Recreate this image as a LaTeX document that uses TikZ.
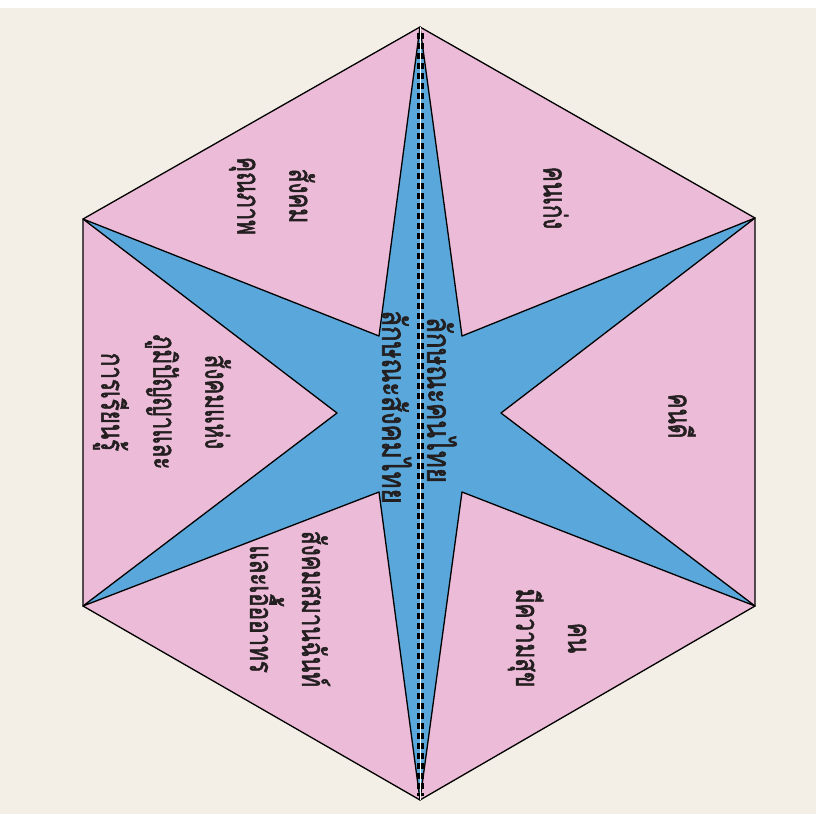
\documentclass[tikz,border=0pt]{standalone}
\usepackage{fontspec}
\newfontfamily\thaifont[Script=Thai, FakeStretch=0.7, FakeBold=1.6]{Loma}
\newfontfamily\thaictr[Script=Thai, FakeStretch=0.78, FakeBold=1.8]{Loma}
\definecolor{bgc}{HTML}{F3EFE7}
\definecolor{pinkf}{HTML}{EBBBD7}
\definecolor{bluef}{HTML}{5AA8DB}
\definecolor{txtc}{HTML}{231F20}
\begin{document}
\begin{tikzpicture}[x=1pt,y=-1pt,
  lbl/.style={rotate=-90, align=center, text=txtc, inner sep=0pt,
    font=\thaifont\fontsize{32}{52}\selectfont},
  ctr/.style={rotate=-90, text=txtc, inner sep=0pt,
    font=\thaictr\fontsize{33}{36}\selectfont},
  edge/.style={draw=black, line width=1.3pt, line join=round}]
\useasboundingbox (0,0) rectangle (832,814);
\fill[white] (0,0) rectangle (832,814);
\fill[bgc] (0,8) rectangle (816,814);
% hexagon vertices
\coordinate (T) at (420,27);
\coordinate (UR) at (755,218);
\coordinate (LR) at (755,606);
\coordinate (B) at (420,800);
\coordinate (LL) at (83,606);
\coordinate (UL) at (83,219);
% star inner vertices
\coordinate (iUR) at (462,336);
\coordinate (iR) at (501,413);
\coordinate (iLR) at (462,492);
\coordinate (iLL) at (379,492);
\coordinate (iL) at (337,413);
\coordinate (iUL) at (379,336);
\filldraw[fill=pinkf, edge] (T)--(UR)--(LR)--(B)--(LL)--(UL)--cycle;
\filldraw[fill=bluef, edge] (T)--(iUR)--(UR)--(iR)--(LR)--(iLR)--(B)--(iLL)--(LL)--(iL)--(UL)--(iUL)--cycle;
% dividing line
\draw[black, line width=7pt, dash pattern=on 6pt off 4pt] ([yshift=-6pt]T) -- ([yshift=4pt]B);
\draw[white, line width=0.6pt] (T) -- (B);
% centre labels
\node[ctr] (cR) at (442,400) {ลักษณะคนไทย};
\node[ctr] (cL) at (397,407) {ลักษณะสังคมไทย};
% right half
\node[lbl] (p1) at (556,198) {คนเก่ง};
\node[lbl] (p2) at (682,416) {คนดี};
\node[lbl] (p3) at (547,638) {คน\\มีความสุข};
% left half
\node[lbl] (p4) at (272,196) {สังคม\\คุณภาพ};
\node[lbl] (p5) at (162,402) {สังคมแห่ง\\ภูมิปัญญาและ\\การเรียนรู้};
\node[lbl] (p6) at (290,609) {สังคมสมานฉันท์\\และเอื้ออาทร};
\end{tikzpicture}
\end{document}
